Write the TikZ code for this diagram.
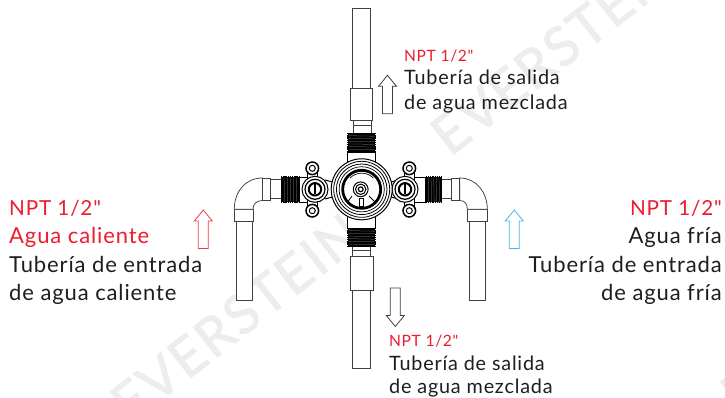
\documentclass[tikz,border=0pt]{standalone}
\usepackage{fontspec}
\setmainfont{Lato}
\newfontfamily\labelfont[LetterSpace=4]{Lato}
\newfontfamily\wmarkfont[LetterSpace=4,FakeBold=1.6]{Lato}
\usetikzlibrary{calc}
\definecolor{npred}{RGB}{237,28,46}
\definecolor{hotred}{RGB}{238,60,70}
\definecolor{coldblue}{RGB}{70,185,235}
\definecolor{inkgray}{RGB}{30,30,33}
\tikzset{
	pipe/.style={draw=black!75, line width=0.75pt, fill=white},
	biglabel/.style={font=\labelfont\fontsize{22}{26}\selectfont, color=inkgray, inner sep=0pt},
	bignpt/.style={font=\labelfont\fontsize{20.7}{26}\selectfont, color=npred, inner sep=0pt},
	smalllabel/.style={font=\labelfont\fontsize{19.8}{24}\selectfont, color=inkgray, inner sep=0pt, anchor=base west},
	npttag/.style={font=\labelfont\fontsize{15.6}{18}\selectfont, color=npred, inner sep=0pt, anchor=base west},
	wmark/.style={rotate=38, color=black!7, font=\wmarkfont\fontsize{54}{54}\selectfont, inner sep=0pt}
}
% flow arrow: (tip x, tip y)(direction, +1 points up)
\def\flowarrow[#1](#2,#3)(#4){\draw[line width=0.8pt, color=#1, fill=white, line join=miter] (#2, #3) -- ++(9, #4*11) -- ++(-4, 0) -- ++(0, #4*27.5) -- ++(-10, 0) -- ++(0, -#4*27.5) -- ++(-4, 0) -- cycle;}
\def\threadv(#1,#2,#3){%
	\fill[black] (#1-13.5, #2) rectangle (#1+13.5, #3);
	\draw[black, line width=1.2pt, dash pattern=on 1.3pt off 0.9pt] (#1-14, #2) -- (#1-14, #3);
	\draw[black, line width=1.2pt, dash pattern=on 1.3pt off 0.9pt] (#1+14, #2) -- (#1+14, #3);
	\foreach \yy in {1,...,6} \draw[black!45, line width=0.25pt] (#1-13, {#2+\yy*(#3-#2)/7}) -- (#1+13, {#2+\yy*(#3-#2)/7+0.5});
}
\def\threadh(#1,#2,#3){%
	\fill[black] (#1, #3-12.5) rectangle (#2, #3+12.5);
	\draw[black, line width=1.2pt, dash pattern=on 1.3pt off 0.9pt] (#1, #3-13) -- (#2, #3-13);
	\draw[black, line width=1.2pt, dash pattern=on 1.3pt off 0.9pt] (#1, #3+13) -- (#2, #3+13);
	\foreach \xx in {1,...,5} \draw[black!45, line width=0.25pt] ({#1+\xx*(#2-#1)/6}, #3-12) -- ({#1+\xx*(#2-#1)/6+0.5}, #3+12);
}
% cross stop: centre, x of the two ears
\def\stopvalve(#1,#2)(#3){%
	\draw[black, line width=1.2pt, fill=white] (#3-4.8, #2-21) rectangle (#3+4.8, #2+21.4);
	\draw[black, line width=1.5pt, fill=white] (#3, #2-21) circle (6.3);
	\draw[black, line width=1.5pt, fill=white] (#3, #2+21.4) circle (6.3);
	\draw[black, line width=1pt, fill=white] (#3, #2-21) circle (3);
	\draw[black, line width=1pt, fill=white] (#3, #2+21.4) circle (3);
	\draw[black, line width=1pt, fill=white] (#1, #2) circle (13);
	\draw[black, line width=1.2pt] (#1, #2) circle (10);
	\draw[black, line width=2pt, fill=white] (#1, #2) circle (6.2);
	\draw[black, line width=1.8pt] (#1, #2-5) -- (#1, #2+5);
}

\begin{document}
\begin{tikzpicture}[x=1pt, y=-1pt]
	\clip (0, 0) rectangle (725, 397);
	\useasboundingbox (0, 0) rectangle (725, 397);
	\fill[white] (0, 0) rectangle (725, 397);
	%%%%% WATERMARK %%%%%
	\node[wmark] (wmarklow) at (236, 318) {EVERSTEIN};
	\node[wmark] (wmarkup) at (556, 50) {EVERSTEIN};
	\node[wmark] (wmarkcorner) at (846, 308) {EVERSTEIN};

	%%%%% TOP AND BOTTOM PIPES %%%%%
	\draw[pipe] (352.5, 8.7) rectangle (370.5, 90);
	\draw[pipe] (350.2, 88) rectangle (372.7, 120);
	\draw[pipe] (353, 120) rectangle (371, 133);
	\draw[black!75, line width=0.6pt] (353, 125) -- (371, 125);
	\draw[pipe] (352.7, 290) rectangle (370.7, 368.3);
	\draw[pipe] (350.3, 256.7) rectangle (373, 290.3);
	\draw[pipe] (352.7, 246.7) rectangle (370.7, 256.7);
	\draw[black!75, line width=0.6pt] (352.7, 250) -- (370.7, 250);
	\threadv(361.6,133,152)
	\threadv(361.6,228,246.7)
	\draw[black, line width=1pt, fill=white] (347.5, 152) rectangle (375.5, 165);
	\draw[black, line width=1pt, fill=white] (347.5, 214) rectangle (375.5, 228);

	%%%%% LEFT ELBOW %%%%%
	\draw[pipe] (236, 221) rectangle (252.3, 300);
	\draw[pipe] (234.3, 209.3) rectangle (253, 221.7);
	\draw[pipe] (262.5, 178) .. controls (245, 178) and (234.3, 192) .. (234.3, 209.3) -- (253, 209.3) .. controls (253, 204) and (256.5, 200.5) .. (262.5, 200.5) -- cycle;
	\draw[pipe] (262.5, 178) rectangle (270.7, 200.5);
	\draw[pipe] (270.7, 179.5) rectangle (281, 198.7);
	\threadh(281,299.3,189.7)

	%%%%% RIGHT ELBOW %%%%%
	\draw[pipe] (469.3, 221) rectangle (485.3, 300);
	\draw[pipe] (467.3, 209.3) rectangle (487.3, 221.7);
	\draw[pipe] (459.7, 178) .. controls (476, 178) and (487.3, 192) .. (487.3, 209.3) -- (467.3, 209.3) .. controls (467.3, 204) and (465, 200.5) .. (459.7, 200.5) -- cycle;
	\draw[pipe] (451.7, 178) rectangle (459.7, 200.5);
	\draw[pipe] (441.7, 179.5) rectangle (451.7, 198.7);
	\threadh(425.7,441.7,189.7)

	%%%%% CROSS STOPS %%%%%
	\draw[black, line width=1pt, fill=white] (299.3, 177) rectangle (316, 202);
	\draw[black, line width=1pt, fill=white] (407, 177) rectangle (425.7, 202);
	\draw[black, line width=1pt] (325, 180) -- (336, 183);
	\draw[black, line width=1pt] (325, 199) -- (336, 196);
	\draw[black, line width=1pt] (398, 180) -- (388, 183);
	\draw[black, line width=1pt] (398, 199) -- (388, 196);
	\stopvalve(315,189.3)(312.3)
	\stopvalve(405,189.3)(409.3)

	%%%%% MAIN BODY %%%%%
	\draw[black, line width=1pt, fill=white] (361.7, 189.3) circle (30.5);
	\draw[black, line width=0.8pt] (361.7, 189.3) circle (28);
	\draw[black, line width=0.8pt] (361.7, 189.3) circle (25.3);
	\draw[black, line width=0.7pt] (361.7, 189.3) circle (22.6);
	\draw[black, line width=2.8pt, fill=white] (361.7, 189.3) circle (19);
	\draw[black, line width=0.7pt] (350, 178) arc (225:315:16.5);
	\draw[black, line width=0.8pt] (352, 196) -- (347, 203);
	\draw[black, line width=0.8pt] (369, 196) -- (376, 203);
	\draw[black, line width=1pt, fill=white] (360.7, 189.3) circle (7.4);
	\draw[black, line width=1pt] (360.7, 189.3) circle (5.2);
	\draw[black, line width=1.2pt] (360.7, 189.3) circle (2.4);
	\draw[black, line width=0.8pt, fill=white] (359.2, 198) rectangle (363, 206);

	%%%%% ARROWS %%%%%
	\flowarrow[black!75](387.5,75.3)(1)
	\flowarrow[black!75](395.3,326.5)(-1)
	\flowarrow[hotred](203.3,210)(1)
	\flowarrow[coldblue](514.3,210)(1)

	%%%%% LABELS %%%%%
	\node[bignpt, anchor=base west] (hotnpt) at (9, 215) {NPT 1/2"};
	\node[biglabel, color=npred, anchor=base west] (hotname) at (9, 243.7) {Agua caliente};
	\node[biglabel, anchor=base west] (hotpipeone) at (9, 272) {Tubería de entrada};
	\node[biglabel, anchor=base west] (hotpipetwo) at (9, 300) {de agua caliente};

	\node[bignpt, anchor=base east] (coldnpt) at (722, 215) {NPT 1/2"};
	\node[biglabel, anchor=base east] (coldname) at (722, 243.7) {Agua fría};
	\node[biglabel, anchor=base east] (coldpipeone) at (722, 272) {Tubería de entrada};
	\node[biglabel, anchor=base east] (coldpipetwo) at (722, 300) {de agua fría};

	\node[npttag] (upnpt) at (404, 61) {NPT 1/2"};
	\node[smalllabel] (uppipeone) at (404, 84.5) {Tubería de salida};
	\node[smalllabel] (uppipetwo) at (404, 109) {de agua mezclada};

	\node[npttag] (downnpt) at (389, 346) {NPT 1/2"};
	\node[smalllabel] (downpipeone) at (389, 370) {Tubería de salida};
	\node[smalllabel] (downpipetwo) at (389, 393.5) {de agua mezclada};
\end{tikzpicture}
\end{document}
